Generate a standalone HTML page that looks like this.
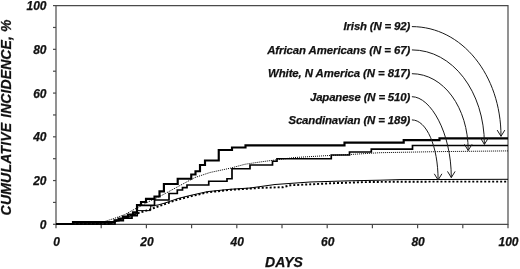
<!DOCTYPE html>
<html><head><meta charset="utf-8"><title>Cumulative incidence</title>
<style>
html,body{margin:0;padding:0;background:#fff;}
body{width:520px;height:269px;overflow:hidden;}
svg{display:block;}
text{font-family:"Liberation Sans",Arial,Helvetica,sans-serif;font-weight:bold;font-style:italic;fill:#111;stroke:#111;stroke-width:0.25px;}
.t{font-size:12px;}
.l{font-size:11.4px;}
.a{font-size:14px;}
</style></head><body>
<svg width="520" height="269" viewBox="0 0 520 269">
<rect x="0" y="0" width="520" height="269" fill="#fff"/>

<g stroke="#4a4a4a" stroke-width="1.2" fill="none">
<path d="M56.0,5.6 H508.0 V224.3 H56.0 Z"/>
<path d="M53.00,224.30 H56.0"/>
<path d="M53.00,202.43 H56.0"/>
<path d="M53.00,180.56 H56.0"/>
<path d="M53.00,158.69 H56.0"/>
<path d="M53.00,136.82 H56.0"/>
<path d="M53.00,114.95 H56.0"/>
<path d="M53.00,93.08 H56.0"/>
<path d="M53.00,71.21 H56.0"/>
<path d="M53.00,49.34 H56.0"/>
<path d="M53.00,27.47 H56.0"/>
<path d="M53.00,5.60 H56.0"/>
<path d="M56.00,224.3 V228.20"/>
<path d="M101.20,224.3 V228.20"/>
<path d="M146.40,224.3 V228.20"/>
<path d="M191.60,224.3 V228.20"/>
<path d="M236.80,224.3 V228.20"/>
<path d="M282.00,224.3 V228.20"/>
<path d="M327.20,224.3 V228.20"/>
<path d="M372.40,224.3 V228.20"/>
<path d="M417.60,224.3 V228.20"/>
<path d="M462.80,224.3 V228.20"/>
<path d="M508.00,224.3 V228.20"/>
</g>
<text class="t" x="46.5" y="228.8" text-anchor="end">0</text>
<text class="t" x="46.5" y="185.1" text-anchor="end">20</text>
<text class="t" x="46.5" y="141.3" text-anchor="end">40</text>
<text class="t" x="46.5" y="97.6" text-anchor="end">60</text>
<text class="t" x="46.5" y="53.8" text-anchor="end">80</text>
<text class="t" x="46.5" y="10.1" text-anchor="end">100</text>
<text class="t" x="56.5" y="245.9" text-anchor="middle">0</text>
<text class="t" x="146.9" y="245.9" text-anchor="middle">20</text>
<text class="t" x="237.3" y="245.9" text-anchor="middle">40</text>
<text class="t" x="327.7" y="245.9" text-anchor="middle">60</text>
<text class="t" x="418.1" y="245.9" text-anchor="middle">80</text>
<text class="t" x="508.5" y="245.9" text-anchor="middle">100</text>
<text class="a" x="284" y="266.6" text-anchor="middle">DAYS</text>
<text class="a" transform="translate(10.9,215.4) rotate(-90)" textLength="92.6" lengthAdjust="spacing">CUMULATIVE</text>
<text class="a" transform="translate(10.9,117.8) rotate(-90)" textLength="98.2" lengthAdjust="spacing">INCIDENCE, %</text>
<path d="M56,224 L108,224 L114,221.5 L125,217.5 L137,213.5 L150,209.5 L165,204 L178,199.5 L190,196.5 L207.5,192.4 L230,189.9 L260,187.9 L283,187.2 L290,185.3 L313,184.2 L333,183.2 L365,182.1 L400,181.7 L508,181.6" fill="none" stroke="#000" stroke-width="1.9" stroke-dasharray="2 1.98"/>
<path d="M56,224 L110,224 L114,222 L125,218 L132,215.5 L137,213 L137,210.6 L150.7,210.6 L150.7,206 L158,205 L165,203 L178,198.5 L190,195.5 L207.5,191.6 L230,189.3 L250,188 L275,184.5 L310,182 L350,180.8 L380,180.2 L400,179.6 L508,179.3" fill="none" stroke="#000" stroke-width="1"/>
<path d="M56,224 L98,223.8 L103,222 L114,218.5 L125,214.5 L133,210 L140,206.4 L150,201 L162.5,195 L180,185.5 L195,177.5 L210,172.5 L230,168.25 L245,164.25 L260,162 L275,160 L295,157.5 L325,155.75 L350,154.5 L380,152.7 L440,151.6 L508,150.9" fill="none" stroke="#000" stroke-width="1" stroke-dasharray="1 1"/>
<path d="M56,224 H115 V220.7 H123.3 V218.2 H132 V215.6 H137.2 V205.4 H154.5 V200 H169 V193.5 H177.3 V190 H182.5 V187.7 H187 V185 H208.75 V181.25 H227 V178.75 H232 V168.75 H250 V165 H272.5 V161.25 H277 V158.75 H331.25 V155 H349.5 V152 H371.3 V149.2 H412.5 V145.5 H508" fill="none" stroke="#000" stroke-width="1.7" stroke-linejoin="miter"/>
<path d="M56,224 H73 V222 H114.5 V220.3 H118.5 V218.5 H123 V216.6 H128 V214.6 H133 V212.4 H137 V205 H141 V202 H146 V198.8 H154.5 V196.5 H159.5 V191.3 H163.9 V184 H177.7 V178.7 H191.25 V174.5 H195.5 V171.25 H200 V165 H205 V160.5 H218.75 V150 H232 V147.5 H245.5 V145.3 H344.5 V142.6 H403.7 V140.1 H439.5 V138.4 H508" fill="none" stroke="#000" stroke-width="2.15" stroke-linejoin="miter"/>
<text class="l" x="410.2" y="30.4" text-anchor="end" textLength="66.6" lengthAdjust="spacing">Irish (N = 92)</text>
<path d="M411.9,26.6 C461.80,26.6 501.0,74.87 501.0,136.3" fill="none" stroke="#1a1a1a" stroke-width="1"/>
<path d="M497.2,130.10000000000002 L501.0,136.3 L504.8,130.10000000000002" fill="none" stroke="#1a1a1a" stroke-width="1"/>
<text class="l" x="410.2" y="54.0" text-anchor="end" textLength="143.0" lengthAdjust="spacing">African Americans (N = 67)</text>
<path d="M411.9,49.9 C452.50,49.9 484.4,91.48 484.4,144.4" fill="none" stroke="#1a1a1a" stroke-width="1"/>
<path d="M480.59999999999997,138.20000000000002 L484.4,144.4 L488.2,138.20000000000002" fill="none" stroke="#1a1a1a" stroke-width="1"/>
<text class="l" x="410.2" y="77.4" text-anchor="end" textLength="142.2" lengthAdjust="spacing">White, N America (N = 817)</text>
<path d="M411.9,73.7 C443.43,73.7 468.2,107.49 468.2,150.5" fill="none" stroke="#1a1a1a" stroke-width="1"/>
<path d="M464.4,144.3 L468.2,150.5 L472.0,144.3" fill="none" stroke="#1a1a1a" stroke-width="1"/>
<text class="l" x="410.2" y="100.7" text-anchor="end" textLength="100.2" lengthAdjust="spacing">Japanese (N = 510)</text>
<path d="M411.9,96.7 C430.42,96.7 451.3,132.30 451.3,177.6" fill="none" stroke="#1a1a1a" stroke-width="1"/>
<path d="M447.5,171.4 L451.3,177.6 L455.1,171.4" fill="none" stroke="#1a1a1a" stroke-width="1"/>
<text class="l" x="410.2" y="124.0" text-anchor="end" textLength="121.8" lengthAdjust="spacing">Scandinavian (N = 189)</text>
<path d="M411.9,119.9 C426.57,119.9 438.1,146.34 438.1,180.0" fill="none" stroke="#1a1a1a" stroke-width="1"/>
<path d="M434.3,173.8 L438.1,180.0 L441.90000000000003,173.8" fill="none" stroke="#1a1a1a" stroke-width="1"/>
</svg></body></html>
